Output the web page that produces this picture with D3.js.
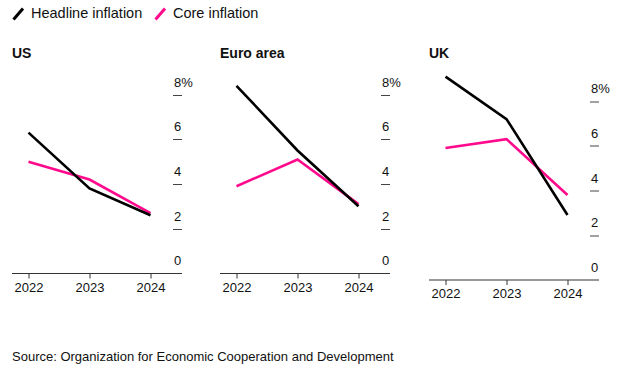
<!DOCTYPE html>
<html>
<head>
<meta charset="utf-8">
<script src="https://cdn.jsdelivr.net/npm/d3@7"></script>
<style>
  body { margin: 0; background: #fff; }
  svg text { font-family: "Liberation Sans", Arial, sans-serif; fill: #111; }
</style>
</head>
<body>
<svg id="chart" width="635" height="387"></svg>
<script>
const years = ['2022', '2023', '2024'];
const regions = ['US', 'Euro area', 'UK'];
const headline = [
  [6.3, 3.8, 2.6],
  [8.4, 5.5, 3.0],
  [9.1, 7.2, 2.9]
];
const core = [
  [5.0, 4.2, 2.7],
  [3.9, 5.1, 3.1],
  [5.9, 6.3, 3.8]
];
const yTicks = [0, 2, 4, 6, 8];
const seriesNames = ['Headline inflation', 'Core inflation'];
const colors = ['#000000', '#ff0a8c'];

const svg = d3.select('#chart');

// legend
const legend = svg.append('g');
const legendX = [12, 154];
seriesNames.forEach((name, i) => {
  const g = legend.append('g').attr('transform', `translate(${legendX[i]}, 0)`);
  g.append('line')
    .attr('x1', 1.5).attr('y1', 19.5).attr('x2', 11).attr('y2', 8.5)
    .attr('stroke', colors[i]).attr('stroke-width', 3);
  g.append('text')
    .attr('x', 19).attr('y', 18)
    .attr('font-size', 14.5)
    .text(name);
});

// panels
const panelX = [12, 220, 429];
const panelY = [0, 0, 6.5];
const axisW = 170;

regions.forEach((region, i) => {
  svg.append('text')
    .attr('x', panelX[i]).attr('y', 58)
    .attr('font-size', 14)
    .attr('font-weight', 'bold')
    .text(region);

  const g = svg.append('g').attr('transform', `translate(${panelX[i]}, ${panelY[i]})`);

  const x = d3.scalePoint().domain(years).range([16.5, 138.5]);
  const y = d3.scaleLinear().domain([0, 8]).range([273.3, 94.7]);

  // y ticks
  const yt = g.append('g');
  yt.selectAll('line').data(yTicks.filter(d => d > 0)).enter().append('line')
    .attr('x1', axisW - 9).attr('x2', axisW)
    .attr('y1', d => Math.round(y(d)) + 0.5).attr('y2', d => Math.round(y(d)) + 0.5)
    .attr('stroke', '#444').attr('stroke-width', 1);
  yt.selectAll('text').data(yTicks).enter().append('text')
    .attr('x', axisW - 8)
    .attr('y', d => y(d) - 8)
    .attr('font-size', 13)
    .text(d => d === 8 ? '8%' : d);

  // x axis
  const xAxis = g.append('g')
    .attr('transform', `translate(0, ${Math.round(y(0)) + 0.5})`)
    .call(d3.axisBottom(x).tickSize(5).tickPadding(4).tickSizeOuter(0));
  xAxis.select('.domain').remove();
  xAxis.append('line')
    .attr('x1', 0).attr('x2', axisW)
    .attr('stroke', '#333');
  xAxis.selectAll('.tick line').attr('stroke', '#333');
  xAxis.selectAll('.tick text')
    .attr('font-size', 13)
    .attr('font-family', '"Liberation Sans", Arial, sans-serif')
    .attr('fill', '#111');

  const line = d3.line().x((d, j) => x(years[j])).y(d => y(d));
  [core[i], headline[i]].forEach((vals, k) => {
    g.append('path')
      .datum(vals)
      .attr('d', line)
      .attr('fill', 'none')
      .attr('stroke', k === 0 ? colors[1] : colors[0])
      .attr('stroke-width', 2.6);
  });
});

svg.append('text')
  .attr('x', 12).attr('y', 361)
  .attr('font-size', 13)
  .text('Source: Organization for Economic Cooperation and Development');
</script>
</body>
</html>
